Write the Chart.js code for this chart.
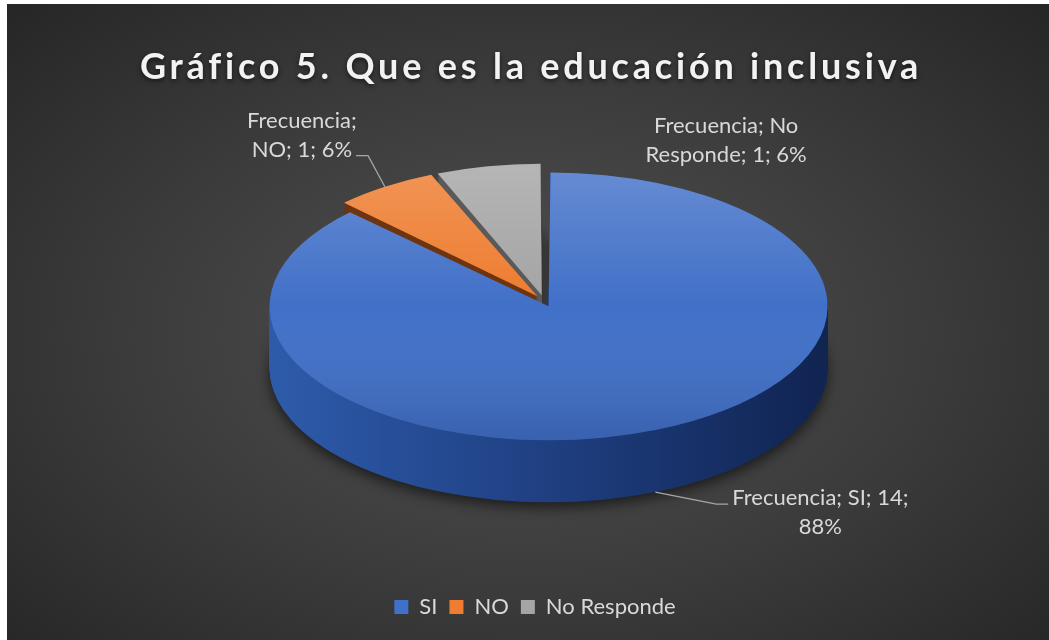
<!DOCTYPE html>
<html>
<head>
<meta charset="utf-8">
<title>Gráfico 5</title>
<script src="https://cdn.jsdelivr.net/npm/chart.js@4.4.1/dist/chart.umd.min.js"></script>
<style>
html, body { margin: 0; padding: 0; background: #ffffff; }
#wrap {
    position: absolute; left: 7px; top: 4px; width: 1042px; height: 636px;
    background: radial-gradient(ellipse at 50% 52%, #525252 0%, #3b3b3b 55%, #262626 100%);
}
</style>
</head>
<body>
<div id="wrap"><canvas id="chart"></canvas></div>
<script>
var chartTitle = 'Gráfico 5. Que es la educación inclusiva';
var seriesName = 'Frecuencia';
var categories = ['SI', 'NO', 'No Responde'];
var frequencies = [14, 1, 1];

var topColors = ['#4170c8', '#ee7d31', '#a5a5a5'];
var sideColors = [null, '#6e3511', '#5a5a5a'];   // SI side gets a gradient below
var explode = [48, 48, 48];

/* fake 3D: squash the pie, then extrude it downwards */
var VIEW = { dx: 9, dy: -3, tilt: 0.48, depth: 62 };
var FONT = 'Lato';
var LABEL_LINE = 29;
/* label text placement relative to the slice anchor */
var LABELS = [
    { dx: 165, dy: 13, wrap: 190, leader: 'left', line: 0, bottom: true },
    { dx: -83, dy: -59, wrap: 120, leader: 'right', line: 1, bottom: false },
    { dx: 238, dy: -33, wrap: 170, leader: null, line: 0, bottom: false }
];

var total = frequencies.reduce(function(a, b) { return a + b; }, 0);

function wrapText(ctx, text, maxW) {
    var words = text.split(' ');
    var lines = [];
    var cur = '';
    words.forEach(function(w) {
        var t = cur ? cur + ' ' + w : w;
        if (cur && ctx.measureText(t).width > maxW) {
            lines.push(cur);
            cur = w;
        } else {
            cur = t;
        }
    });
    if (cur) lines.push(cur);
    return lines;
}

function applyView(ctx, arc, extraY) {
    ctx.translate(arc.x + VIEW.dx, arc.y + VIEW.dy + extraY);
    ctx.scale(1, VIEW.tilt);
    ctx.translate(-arc.x, -arc.y);
}

function drawWith(ctx, arc, fill) {
    var o = arc.options;
    arc.options = Object.assign({}, o, { backgroundColor: fill, borderWidth: 0 });
    arc.draw(ctx);
    arc.options = o;
}

// point on a slice's outer edge, in canvas space (same maths as ArcElement.draw)
function project(arc, ang, depth) {
    var off = (arc.options.offset || 0) / 4;
    var fix = 1 - Math.sin(Math.min(Math.PI, arc.circumference || 0));
    var mid = (arc.startAngle + arc.endAngle) / 2;
    var r = arc.outerRadius + off * fix;
    var ux = arc.x + Math.cos(mid) * off + Math.cos(ang) * r;
    var uy = arc.y + Math.sin(mid) * off + Math.sin(ang) * r;
    return { x: ux + VIEW.dx, y: arc.y + VIEW.dy + (uy - arc.y) * VIEW.tilt + depth };
}

var pie3d = {
    id: 'pie3d',
    beforeDatasetsDraw: function(chart) {
        var ctx = chart.ctx;
        var arcs = chart.getDatasetMeta(0).data;
        var a0 = arcs[0];
        var R = a0.outerRadius;

        var siSide = ctx.createLinearGradient(a0.x - R, 0, a0.x + R, 0);
        siSide.addColorStop(0, '#2d5aa9');
        siSide.addColorStop(0.5, '#1f3f81');
        siSide.addColorStop(1, '#112553');
        var sides = [siSide, sideColors[1], sideColors[2]];

        for (var d = VIEW.depth; d >= 1; d--) {
            ctx.save();
            if (d == VIEW.depth) {
                ctx.shadowColor = 'rgba(0,0,0,0.6)';
                ctx.shadowBlur = 14;
                ctx.shadowOffsetY = 5;
            }
            applyView(ctx, a0, d);
            arcs.forEach(function(arc, i) { drawWith(ctx, arc, sides[i]); });
            ctx.restore();
        }

        ctx.save();
        applyView(ctx, a0, 0);
    },
    afterDatasetsDraw: function(chart) {
        var ctx = chart.ctx;
        var arcs = chart.getDatasetMeta(0).data;
        var a0 = arcs[0];
        var R = a0.outerRadius;

        // soft light on the top faces
        var light = ctx.createLinearGradient(0, a0.y - R, 0, a0.y + R);
        light.addColorStop(0, 'rgba(255,255,255,0.18)');
        light.addColorStop(0.5, 'rgba(255,255,255,0)');
        light.addColorStop(1, 'rgba(0,0,0,0.12)');
        arcs.forEach(function(arc) { drawWith(ctx, arc, light); });
        ctx.restore();

        // data labels
        ctx.save();
        ctx.font = '22px ' + FONT;
        ctx.fillStyle = '#d9d9d9';
        ctx.strokeStyle = '#a6a6a6';
        ctx.lineWidth = 1.3;
        ctx.textAlign = 'center';
        ctx.textBaseline = 'alphabetic';
        arcs.forEach(function(arc, i) {
            var L = LABELS[i];
            var mid = (arc.startAngle + arc.endAngle) / 2;
            var anchor = project(arc, mid, L.bottom ? VIEW.depth : 0);
            var pct = Math.round(frequencies[i] / total * 100);
            var text = seriesName + '; ' + categories[i] + '; ' + frequencies[i] + '; ' + pct + '%';
            var lines = wrapText(ctx, text, L.wrap);
            var tx = anchor.x + L.dx;
            var ty = anchor.y + L.dy;
            lines.forEach(function(s, k) {
                ctx.fillText(s, tx, ty + k * LABEL_LINE);
            });
            if (L.leader) {
                var ly = ty + L.line * LABEL_LINE - 1;
                var lineW = ctx.measureText(lines[L.line]).width;
                var edge = L.leader == 'left' ? tx - lineW / 2 - 4 : tx + lineW / 2 + 4;
                var dir = L.leader == 'left' ? -1 : 1;
                ctx.beginPath();
                ctx.moveTo(anchor.x, anchor.y);
                ctx.lineTo(edge + dir * 12, ly);
                ctx.lineTo(edge, ly);
                ctx.stroke();
            }
        });
        ctx.restore();
    },
    afterDraw: function(chart) {
        var ctx = chart.ctx;
        ctx.save();
        ctx.font = 'bold 36px ' + FONT;
        ctx.letterSpacing = '3.8px';
        ctx.textAlign = 'center';
        ctx.fillStyle = '#f2f2f2';
        ctx.shadowColor = 'rgba(0,0,0,0.6)';
        ctx.shadowBlur = 5;
        ctx.shadowOffsetY = 2;
        ctx.fillText(chartTitle, chart.width / 2 + 3, 63);
        ctx.restore();
    }
};

new Chart(document.getElementById('chart'), {
    type: 'pie',
    data: {
        labels: categories,
        datasets: [{
            label: seriesName,
            data: frequencies,
            backgroundColor: topColors,
            borderWidth: 0,
            offset: explode,
            radius: 267,
            clip: false
        }]
    },
    options: {
        responsive: true,
        maintainAspectRatio: false,
        animation: false,
        layout: { padding: { top: 20, bottom: 12, left: 14, right: 0 } },
        plugins: {
            title: { display: false },
            tooltip: { enabled: false },
            legend: {
                position: 'bottom',
                labels: {
                    color: '#d9d9d9',
                    font: { family: FONT, size: 22 },
                    boxWidth: 14,
                    boxHeight: 14,
                    padding: 12
                }
            }
        }
    },
    plugins: [pie3d]
});
</script>
</body>
</html>
